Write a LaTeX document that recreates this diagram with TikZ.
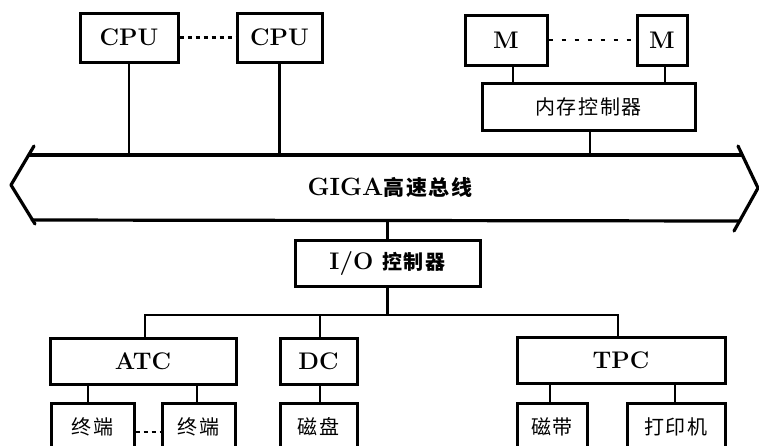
\documentclass[tikz,border=0pt]{standalone}
\usepackage{fontspec}
\newfontfamily\cjk[LetterSpace=8]{Noto Sans CJK SC}
\begin{document}
\begin{tikzpicture}[x=1pt,y=-1pt,
  box/.style={draw, line width=3pt, inner sep=0pt, font=\fontsize{24}{26}\selectfont\bfseries},
  cjkbox/.style={box, font=\cjk\fontsize{20}{22}\selectfont},
  link/.style={line width=2.8pt},
  busline/.style={line width=3.2pt, line cap=round, line join=round},
  dots/.style={line width=2.6pt, dash pattern=on 4pt off 4pt},
  mdots/.style={line width=2.6pt, dash pattern=on 4pt off 9pt}]
\useasboundingbox (0,0) rectangle (759,445);
\clip (0,0) rectangle (759,445);

% top row
\node[box, minimum width=98pt, minimum height=49pt] (cpu1) at (129,37.5) {CPU};
\node[box, minimum width=85pt, minimum height=49pt] (cpu2) at (279.5,37.5) {CPU};
\node[box, minimum width=82pt, minimum height=50pt] (m1) at (506,40) {M};
\node[box, minimum width=50pt, minimum height=50pt] (m2) at (662,40) {M};
\node[cjkbox, minimum width=213pt, minimum height=47pt] (mc) at (588.5,106.5) {内存控制器};

\draw[dots] (cpu1.east) -- (cpu2.west);
\draw[mdots] (m1.east) -- (m2.west);
\draw[link] ([xshift=7pt]m1.south) -- ([xshift=7pt]m1.south |- mc.north);
\draw[link] ([xshift=3pt]m2.south) -- ([xshift=3pt]m2.south |- mc.north);

% bus
\coordinate (bustop) at (0,155);
\coordinate (busbot) at (0,220);
\draw[busline] (34,146) -- (11,185) -- (35,224);
\draw[busline] (738,146) -- (758,188) -- (734,231);
\draw[busline] (29,155) -- (742,155);
\draw[busline] (32,220) -- (740,221);
\node (bus) at (390,187) {\fontsize{25}{28}\selectfont\bfseries GIGA\cjk\fontsize{21}{24}\selectfont\bfseries 高速总线};

\draw[link] (cpu1.south) -- (cpu1.south |- bustop);
\draw[link] (cpu2.south) -- (cpu2.south |- bustop);
\draw[link] ([xshift=1.5pt]mc.south) -- ([xshift=1.5pt]mc.south |- bustop);

% I/O
\node[box, minimum width=185pt, minimum height=46pt] (io) at (387.5,263) {I/O {\cjk\fontsize{20}{22}\selectfont 控制器}};
\draw[link] (io.north) -- (io.north |- busbot);

% controllers
\node[box, minimum width=186pt, minimum height=46pt] (atc) at (143,361) {ATC};
\node[box, minimum width=77pt, minimum height=46pt] (dc) at (318.5,361) {DC};
\node[box, minimum width=208pt, minimum height=46pt] (tpc) at (621,360) {TPC};

\coordinate (branch) at (0,315);
\draw[link] ([xshift=2pt]atc.north) -- ([xshift=2pt]atc.north |- branch) -| ([xshift=-3pt]tpc.north);
\draw[link] (io.south) -- (io.south |- branch);
\draw[link] ([xshift=1.5pt]dc.north) -- ([xshift=1.5pt]dc.north |- branch);

% devices
\node[cjkbox, minimum width=83pt, minimum height=48pt] (t1) at (92.5,427) {终端};
\node[cjkbox, minimum width=73pt, minimum height=48pt] (t2) at (198.5,427) {终端};
\node[cjkbox, minimum width=77pt, minimum height=48pt] (disk) at (318.5,427) {磁盘};
\node[cjkbox, minimum width=70pt, minimum height=48pt] (tape) at (552,427) {磁带};
\node[cjkbox, minimum width=98pt, minimum height=48pt] (prn) at (676,427) {打印机};

\draw[dots] ([yshift=-5pt]t1.east) -- ([yshift=-5pt]t2.west);
\draw[link] ([xshift=-4.5pt]t1.north) -- ([xshift=-4.5pt]t1.north |- atc.south);
\draw[link] ([xshift=-1.5pt]t2.north) -- ([xshift=-1.5pt]t2.north |- atc.south);
\draw[link] ([xshift=1.5pt]disk.north) -- ([xshift=1.5pt]disk.north |- dc.south);
\draw[link] ([xshift=-2pt]tape.north) -- ([xshift=-2pt]tape.north |- tpc.south);
\draw[link] ([xshift=-1pt]prn.north) -- ([xshift=-1pt]prn.north |- tpc.south);
\end{tikzpicture}
\end{document}
